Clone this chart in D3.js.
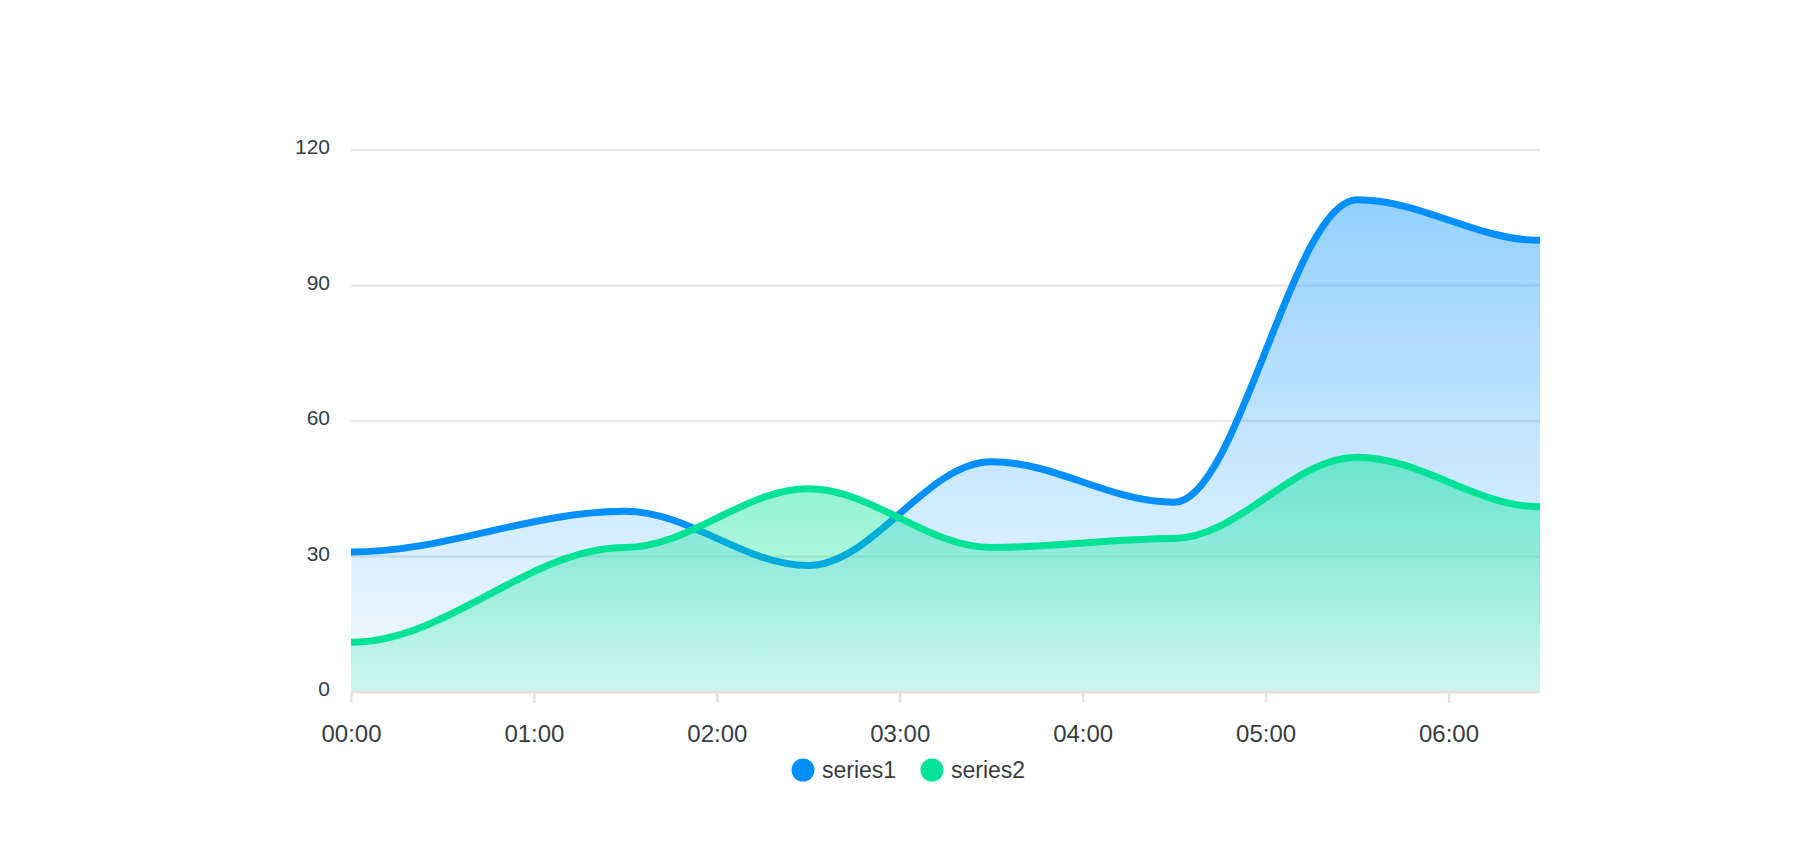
<!DOCTYPE html>
<html>
<head>
<meta charset="utf-8">
<script src="https://cdn.jsdelivr.net/npm/d3@7"></script>
<style>
  html, body { margin: 0; padding: 0; background: #fff; }
  svg { display: block; font-family: "Liberation Sans", Arial, Helvetica, sans-serif; }
</style>
</head>
<body>
<svg id="chart" width="1820" height="866"></svg>
<script>
// ---- data ----
const timestamps = ["2018-09-19T00:00:00.000Z", "2018-09-19T01:30:00.000Z", "2018-09-19T02:30:00.000Z",
  "2018-09-19T03:30:00.000Z", "2018-09-19T04:30:00.000Z", "2018-09-19T05:30:00.000Z", "2018-09-19T06:30:00.000Z"];
const series1 = [31, 40, 28, 51, 42, 109, 100];
const series2 = [11, 32, 45, 32, 34, 52, 41];
const seriesNames = ["series1", "series2"];
const seriesColors = ["#008FFB", "#00E396"];
const yTicks = [0, 30, 60, 90, 120];

const dates = timestamps.map(t => new Date(t));
const allSeries = [series1, series2];

// ---- layout ----
const svg = d3.select("#chart");
const L = 351, R = 1540, T = 150, B = 692;

const x = d3.scaleUtc().domain([dates[0], dates[dates.length - 1]]).range([L, R]);
const y = d3.scaleLinear().domain([0, 120]).range([B, T]);

// ApexCharts-style smooth curve (horizontal tangents, control points at 0.35)
function ApexSmooth(context) { this._context = context; }
ApexSmooth.prototype = {
  areaStart() { this._line = 0; },
  areaEnd() { this._line = NaN; },
  lineStart() { this._point = 0; },
  lineEnd() {
    if (this._line || (this._line !== 0 && this._point === 1)) this._context.closePath();
    this._line = 1 - this._line;
  },
  point(px, py) {
    px = +px; py = +py;
    if (this._point === 0) {
      this._point = 1;
      if (this._line) this._context.lineTo(px, py); else this._context.moveTo(px, py);
    } else {
      this._point = 2;
      const l = (px - this._x0) * 0.35;
      this._context.bezierCurveTo(this._x0 + l, this._y0, px - l, py, px, py);
    }
    this._x0 = px; this._y0 = py;
  }
};
const curveApex = ctx => new ApexSmooth(ctx);

// gradients
const defs = svg.append("defs");
const gradSpecs = [
  { id: "g1", color: seriesColors[0], from: 0.42, to: 0.04 },
  { id: "g2", color: seriesColors[1], from: 0.46, to: 0.16 }
];
gradSpecs.forEach((g, i) => {
  const top = y(d3.max(allSeries[i]));
  const lg = defs.append("linearGradient").attr("id", g.id)
    .attr("gradientUnits", "userSpaceOnUse")
    .attr("x1", 0).attr("x2", 0).attr("y1", top).attr("y2", B);
  lg.append("stop").attr("offset", 0).attr("stop-color", g.color).attr("stop-opacity", g.from);
  lg.append("stop").attr("offset", 1).attr("stop-color", g.color).attr("stop-opacity", g.to);
});

// grid
svg.append("g").selectAll("line").data(yTicks.filter(v => v > 0)).join("line")
  .attr("x1", L).attr("x2", R).attr("y1", d => y(d)).attr("y2", d => y(d))
  .attr("stroke", "#e8e8e8").attr("stroke-width", 2.5);

// y labels
svg.append("g").selectAll("text").data(yTicks).join("text")
  .attr("x", 330).attr("y", d => y(d) + 4)
  .attr("text-anchor", "end").attr("font-size", 21).attr("fill", "#373d3f")
  .text(d => d);

// areas + lines
const area = d3.area().x((d, i) => x(dates[i])).y0(B).y1(d => y(d)).curve(curveApex);
const line = d3.line().x((d, i) => x(dates[i])).y(d => y(d)).curve(curveApex);

allSeries.forEach((s, i) => {
  svg.append("path").attr("d", area(s)).attr("fill", `url(#${gradSpecs[i].id})`);
  svg.append("path").attr("d", line(s)).attr("fill", "none")
    .attr("stroke", seriesColors[i]).attr("stroke-width", 7);
});

// x axis
const xAxis = d3.axisBottom(x).ticks(d3.utcHour.every(1)).tickFormat(d3.utcFormat("%H:%M")).tickSizeOuter(0).tickSize(11).tickPadding(0);
const gx = svg.append("g").attr("transform", `translate(0,${B})`).call(xAxis);
gx.select(".domain").remove();
gx.insert("line", ":first-child").attr("x1", L).attr("x2", R).attr("y1", 0).attr("y2", 0)
  .attr("stroke", "#e3e3e3").attr("stroke-width", 3);
gx.selectAll(".tick line").attr("stroke", "#e3e3e3").attr("stroke-width", 2.5);
gx.selectAll(".tick text").attr("font-size", 24).attr("fill", "#373d3f")
  .attr("dy", null).attr("y", 50)
  .attr("font-family", "'Liberation Sans', Arial, sans-serif");

// legend
const legend = svg.append("g");
const legendItems = [{ cx: 803, tx: 822 }, { cx: 932, tx: 951 }];
seriesNames.forEach((n, i) => {
  legend.append("circle").attr("cx", legendItems[i].cx).attr("cy", 770).attr("r", 11.5).attr("fill", seriesColors[i]);
  legend.append("text").attr("x", legendItems[i].tx).attr("y", 778).attr("font-size", 23).attr("fill", "#373d3f").text(n);
});
</script>
</body>
</html>
